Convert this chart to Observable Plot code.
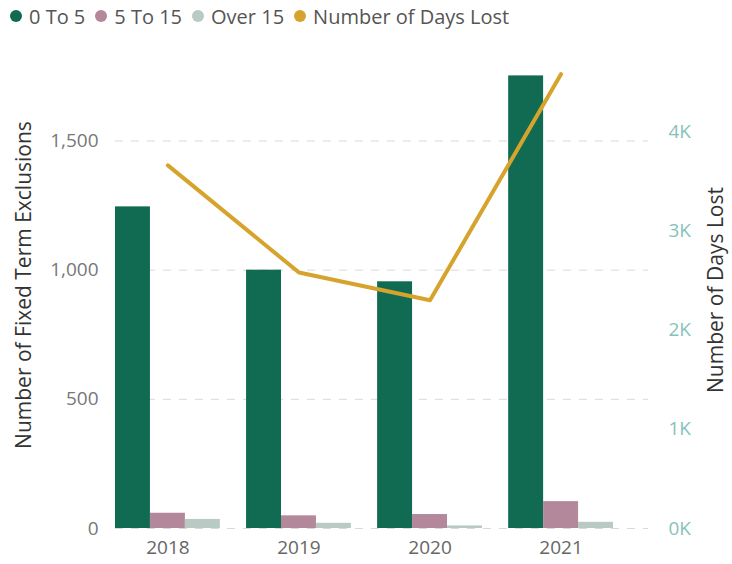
<!DOCTYPE html>
<html>
<head>
<meta charset="utf-8">
<script src="https://cdn.jsdelivr.net/npm/d3@7"></script>
<script src="https://cdn.jsdelivr.net/npm/@observablehq/plot@0.6"></script>
<style>
  body { margin: 0; background: #fff; font-family: "Open Sans", "Noto Sans", sans-serif; }
  #wrap { position: relative; width: 732px; height: 564px; }
  #legend { height: 32px; display: flex; align-items: center; padding-left: 10px; font-size: 20px; color: #555; white-space: nowrap; }
  .item { display: flex; align-items: center; margin-right: 10px; }
  .dot { width: 12px; height: 12px; border-radius: 50%; margin-right: 7px; }
  .title { position: absolute; font-size: 21px; color: #333; white-space: nowrap; transform: translate(-50%, -50%) rotate(-90deg); }
</style>
</head>
<body>
<div id="wrap">
<div id="legend"></div>
<div id="chart"></div>
<div class="title" id="ltitle" style="left:23px; top:285px;"></div>
<div class="title" id="rtitle" style="left:715px; top:290px;"></div>
</div>
<script>
const years = ["2018", "2019", "2020", "2021"];
const seriesNames = ["0 To 5", "5 To 15", "Over 15"];
const zeroTo5 = [1245, 1000, 955, 1752];
const fiveTo15 = [59, 49, 54, 104];
const over15 = [35, 20, 10, 24];
const daysLost = [3660, 2580, 2300, 4580];
const lineName = "Number of Days Lost";
const leftTitle = "Number of Fixed Term Exclusions";
const seriesColors = ["#116B52", "#B2889A", "#B9CAC4"];
const lineColor = "#D6A42C";
const leftTicks = [0, 500, 1000, 1500];
const rightTicks = [0, 1000, 2000, 3000, 4000];

const yMax = 1800;
const daysMax = 4687;
const k = yMax / daysMax;

const seriesValues = [zeroTo5, fiveTo15, over15];
const groupWidth = 0.8;
const bw = groupWidth / seriesNames.length;
const bars = years.flatMap((yr, i) => seriesNames.map((s, j) => ({
  year: yr, series: s, value: seriesValues[j][i],
  x1: i - groupWidth / 2 + j * bw, x2: i - groupWidth / 2 + (j + 1) * bw
})));
const linePts = years.map((yr, i) => ({ i, yr, days: daysLost[i], y: daysLost[i] * k }));

// legend
const legend = document.getElementById("legend");
[...seriesNames.map((s, j) => [s, seriesColors[j]]), [lineName, lineColor]].forEach(([name, c]) => {
  const it = document.createElement("div");
  it.className = "item";
  it.innerHTML = `<span class="dot" style="background:${c}"></span><span>${name}</span>`;
  legend.appendChild(it);
});
document.getElementById("ltitle").textContent = leftTitle;
document.getElementById("rtitle").textContent = lineName;

const chart = Plot.plot({
  width: 732,
  height: 532,
  marginLeft: 115,
  marginRight: 84,
  marginTop: 31,
  marginBottom: 36,
  style: { fontFamily: "'Open Sans', 'Noto Sans', sans-serif", fontSize: "19px", background: "#fff" },
  x: { domain: [-0.4, 3.667], axis: null },
  y: { domain: [0, yMax], axis: null },
  color: { domain: seriesNames, range: seriesColors },
  marks: [
    Plot.ruleY(leftTicks, { stroke: "#d9d9d9", strokeDasharray: "8,8", strokeWidth: 1 }),
    Plot.rectY(bars, { x1: "x1", x2: "x2", y: "value", fill: "series" }),
    Plot.line(linePts, { x: "i", y: "y", stroke: lineColor, strokeWidth: 4 }),
    Plot.axisY({ ticks: leftTicks, tickSize: 0, tickPadding: 17, tickFormat: d3.format(","), color: "#777", label: null }),
    Plot.axisY({ anchor: "right", ticks: rightTicks.map(v => v * k), tickSize: 0, tickPadding: 20,
      tickFormat: d => Math.round(d / k / 1000) + "K", color: "#86c2bc", label: null }),
    Plot.axisX({ ticks: [0, 1, 2, 3], tickFormat: i => years[i], tickSize: 0, tickPadding: 12, color: "#666", label: null })
  ]
});
document.getElementById("chart").appendChild(chart);
</script>
</body>
</html>
